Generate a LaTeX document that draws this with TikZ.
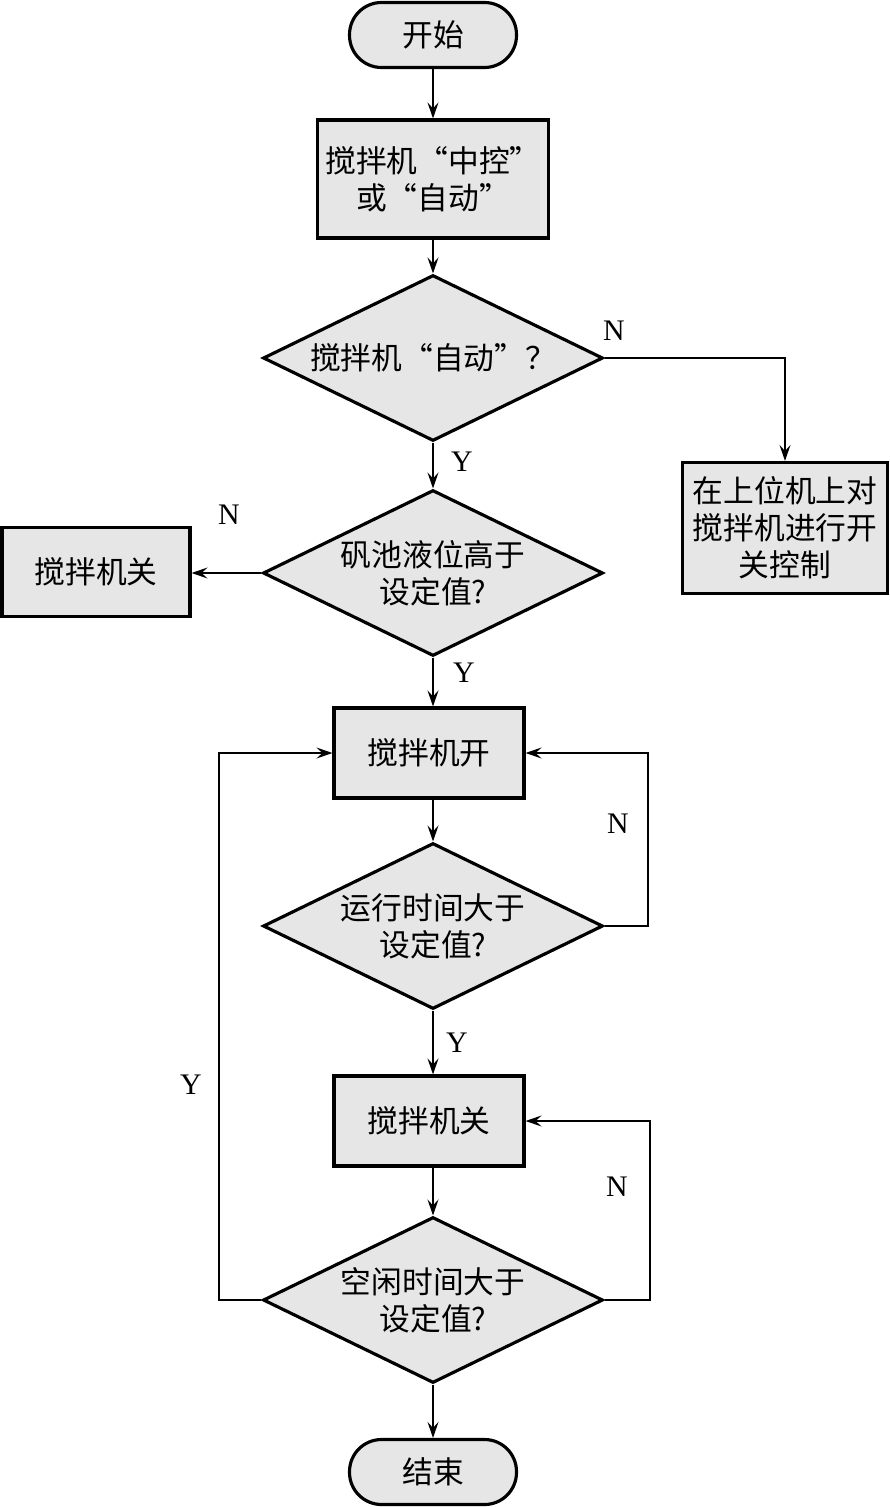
\documentclass[tikz,border=0pt]{standalone}
\usepackage{fontspec}
\setmainfont{Liberation Serif}
\newfontfamily\cjk{Noto Sans CJK SC}
\newfontfamily\cjkfw[RawFeature=+fwid]{Noto Sans CJK SC}
\newcommand{\myLq}{{\cjkfw “}}
\newcommand{\myRq}{{\cjkfw ”}}
\usetikzlibrary{shapes.geometric,arrows.meta}
\definecolor{boxgray}{RGB}{230,230,230}
\tikzset{
  base/.style={draw=black, line width=1.8pt, fill=boxgray, font=\cjk\fontsize{17.5}{21}\selectfont, align=center, inner sep=0pt},
  term/.style={base, rectangle, rounded corners=0.64cm, minimum width=3.34cm, minimum height=1.3cm},
  proc/.style={base, rectangle},
  deci/.style={base, diamond, aspect=2.05, minimum width=6.8cm, minimum height=3.32cm},
  arr/.style={line width=0.7pt, -{Stealth[length=3.2mm,width=2.2mm,inset=1.2mm]}},
  lab/.style={font=\fontsize{17}{20}\selectfont, inner sep=0pt}
}
\begin{document}
\begin{tikzpicture}[x=0.02cm,y=-0.02cm]
\path[use as bounding box] (0,0) rectangle (889,1507);
\node[term] (start) at (433,35) {开始};
\node[proc, minimum width=4.62cm, minimum height=2.36cm] (b1) at (433,179) {搅拌机\myLq 中控\myRq\\或\myLq 自动\myRq};
\node[deci] (d1) at (433,358) {搅拌机\myLq 自动\myRq ？};
\node[proc, minimum width=4.1cm, minimum height=2.62cm] (rb) at (785,528) {在上位机上对\\搅拌机进行开\\关控制};
\node[deci] (d2) at (433,573) {矾池液位高于\\设定值?};
\node[proc, minimum width=3.76cm, minimum height=1.78cm] (lb) at (96,572) {搅拌机关};
\node[proc, minimum width=3.8cm, minimum height=1.8cm] (on) at (429,753) {搅拌机开};
\node[deci] (d3) at (433,926) {运行时间大于\\设定值?};
\node[proc, minimum width=3.8cm, minimum height=1.8cm] (off) at (429,1121) {搅拌机关};
\node[deci] (d4) at (433,1300) {空闲时间大于\\设定值?};
\node[term] (end) at (433,1472) {结束};

\draw[arr] (start.south) -- (start.south |- b1.north);
\draw[arr] (b1.south -| d1.north) -- (d1.north);
\draw[arr] (d1.east) -| (rb.north);
\draw[arr] (d1.south) -- (d2.north);
\draw[arr] (d2.west) -- (d2.west -| lb.east);
\draw[arr] (d2.south) -- (d2.south |- on.north);
\draw[arr] (d2.south |- on.south) -- (d3.north);
\draw[arr] (d3.south) -- (d3.south |- off.north);
\draw[arr] (d3.south |- off.south) -- (d4.north);
\draw[arr] (d4.south) -- (end.north);
\coordinate (c3) at (648,926);
\draw[arr] (d3.east) -- (c3) |- (on.east);
\coordinate (c4) at (650,1300);
\draw[arr] (d4.east) -- (c4) |- (off.east);
\coordinate (c5) at (219,1300);
\draw[arr] (d4.west) -- (c5) |- (on.west);

\node[lab] (n1) at (614,331) {N};
\node[lab] (y1) at (462,462) {Y};
\node[lab] (n2) at (229,515) {N};
\node[lab] (y2) at (464,673) {Y};
\node[lab] (n3) at (618,824) {N};
\node[lab] (y3) at (457,1043) {Y};
\node[lab] (n4) at (617,1187) {N};
\node[lab] (y4) at (191,1085) {Y};
\end{tikzpicture}
\end{document}
